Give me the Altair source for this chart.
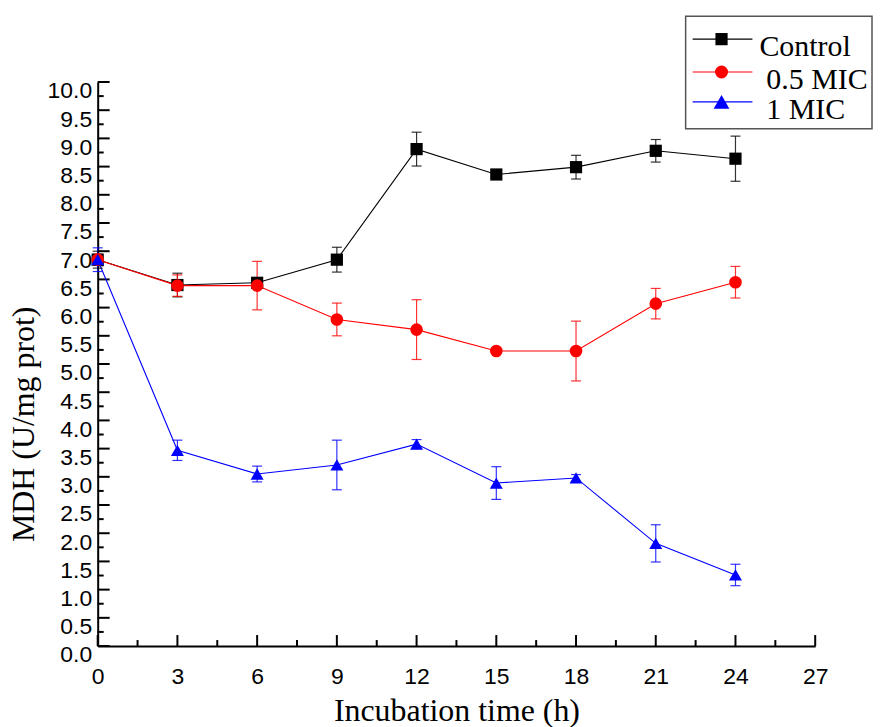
import altair as alt
import pandas as pd

# ---- data ----
times = [0, 3, 6, 9, 12, 15, 18, 21, 24]
series_names = ["Control", "0.5 MIC", "1 MIC"]
control = [6.85, 6.40, 6.44, 6.85, 8.81, 8.36, 8.49, 8.78, 8.64]
control_err = [0.15, 0.21, 0.08, 0.22, 0.30, 0.05, 0.21, 0.20, 0.40]
mic05 = [6.85, 6.39, 6.39, 5.79, 5.61, 5.23, 5.23, 6.07, 6.45]
mic05_err = [0.10, 0.19, 0.43, 0.29, 0.53, 0.05, 0.53, 0.27, 0.28]
mic1 = [6.85, 3.47, 3.05, 3.21, 3.58, 2.89, 2.98, 1.82, 1.26]
mic1_err = [0.21, 0.18, 0.14, 0.44, 0.08, 0.29, 0.06, 0.33, 0.19]

x_major = [0, 3, 6, 9, 12, 15, 18, 21, 24, 27]
x_minor = [1.5, 4.5, 7.5, 10.5, 13.5, 16.5, 19.5, 22.5, 25.5]
y_major = [i * 0.5 for i in range(21)]
y_minor = [0.25 + i * 0.5 for i in range(20)]

colors = ["#000000", "#ff0000", "#0000ff"]
shapes = ["square", "circle", "triangle-up"]
sizes = [150, 170, 250]

rows = []
for name, vals, errs in zip(series_names, [control, mic05, mic1],
                            [control_err, mic05_err, mic1_err]):
    for t, v, e in zip(times, vals, errs):
        rows.append({"time": t, "val": v, "lo": v - e, "hi": v + e, "series": name})
df = pd.DataFrame(rows)

W, H = 720, 566
SERIF = "Liberation Serif"
SANS = "Liberation Sans"

xscale = alt.Scale(domain=[0, 27], nice=False, zero=False)
yscale = alt.Scale(domain=[0, 10], nice=False, zero=False)
xaxis = alt.Axis(values=x_major, format="d", title="Incubation time (h)",
                 labelPadding=20, labelFlush=False, titleX=W / 2, titleY=75,
                 titleAlign="center", titleBaseline="alphabetic")
yaxis = alt.Axis(values=y_major, format=".1f", title="MDH (U/mg prot)",
                 labelPadding=6, labelOffset=9, labelFlush=False, titleX=-64, titleY=343,
                 titleAngle=270, titleAlign="center", titleBaseline="alphabetic")

X = lambda f: alt.X(f, type="quantitative", scale=xscale, axis=xaxis)
Y = lambda f: alt.Y(f, type="quantitative", scale=yscale, axis=yaxis)

cscale = alt.Scale(domain=series_names, range=colors)
sscale = alt.Scale(domain=series_names, range=shapes)
zscale = alt.Scale(domain=series_names, range=sizes)
color = alt.Color("series:N", scale=cscale, legend=None)

base = alt.Chart(df)

# inward ticks
ytick_major = alt.Chart(pd.DataFrame({"val": y_major})).mark_rule(color="black", strokeWidth=2).encode(
    y=Y("val"), x=alt.value(0), x2=alt.value(12))
ytick_minor = alt.Chart(pd.DataFrame({"val": y_minor})).mark_rule(color="black", strokeWidth=2).encode(
    y=Y("val"), x=alt.value(0), x2=alt.value(6))
xtick_major = alt.Chart(pd.DataFrame({"time": x_major})).mark_rule(color="black", strokeWidth=2).encode(
    x=X("time"), y=alt.value(H), y2=alt.value(H - 11))
xtick_minor = alt.Chart(pd.DataFrame({"time": x_minor})).mark_rule(color="black", strokeWidth=2).encode(
    x=X("time"), y=alt.value(H), y2=alt.value(H - 6))

lines = base.mark_line(strokeWidth=1.1).encode(x=X("time"), y=Y("val"), color=color)
err = base.mark_rule(strokeWidth=1.2, opacity=0.8).encode(
    x=X("time"), y=Y("lo"), y2=alt.Y2("hi"), color=color)
cap_lo = base.mark_tick(orient="horizontal", size=10, thickness=1.2, opacity=0.8).encode(
    x=X("time"), y=Y("lo"), color=color)
cap_hi = base.mark_tick(orient="horizontal", size=10, thickness=1.2, opacity=0.8).encode(
    x=X("time"), y=Y("hi"), color=color)
points = base.mark_point(filled=True, opacity=1).encode(
    x=X("time"), y=Y("val"), color=color,
    shape=alt.Shape("series:N", scale=sscale, legend=None),
    size=alt.Size("series:N", scale=zscale, legend=None))

# legend box (drawn by hand)
one = alt.Data(values=[{"k": 1}])
legend_layers = [
    alt.Chart(one).mark_rect(fillOpacity=0, stroke="#555555", strokeWidth=1.5).encode(
        x=alt.value(590), x2=alt.value(777), y=alt.value(-66), y2=alt.value(47))
]
marker_y = [-43, -10, 20]
text_x = [664, 671, 671]
for name, c, s, z, my, tx in zip(series_names, colors, shapes, sizes, marker_y, text_x):
    legend_layers.append(alt.Chart(one).mark_rule(color=c, strokeWidth=1.2).encode(
        x=alt.value(597), x2=alt.value(657), y=alt.value(my)))
    legend_layers.append(alt.Chart(one).mark_point(filled=True, shape=s, size=z, color=c, opacity=1).encode(
        x=alt.value(626), y=alt.value(my)))
    legend_layers.append(alt.Chart(one).mark_text(text=name, font=SERIF, fontSize=30, align="left",
                                                  baseline="alphabetic", color="black").encode(
        x=alt.value(tx), y=alt.value(my + 17)))

chart = alt.layer(
    ytick_major, ytick_minor, xtick_major, xtick_minor,
    lines, err, cap_lo, cap_hi, points, *legend_layers
).properties(
    width=W, height=H,
    autosize=alt.AutoSizeParams(type="none"),
    padding={"left": 90, "top": 73, "right": 58, "bottom": 80},
).configure_view(stroke=None).configure_axis(
    domainWidth=2, domainColor="black", ticks=False, tickSize=0, grid=False,
    labelFont=SANS, labelFontSize=23, labelColor="black",
    titleFont=SERIF, titleFontSize=32, titleFontWeight="normal", titleColor="black",
)

chart.save("out.html", embed_options={"renderer": "svg", "actions": False})
